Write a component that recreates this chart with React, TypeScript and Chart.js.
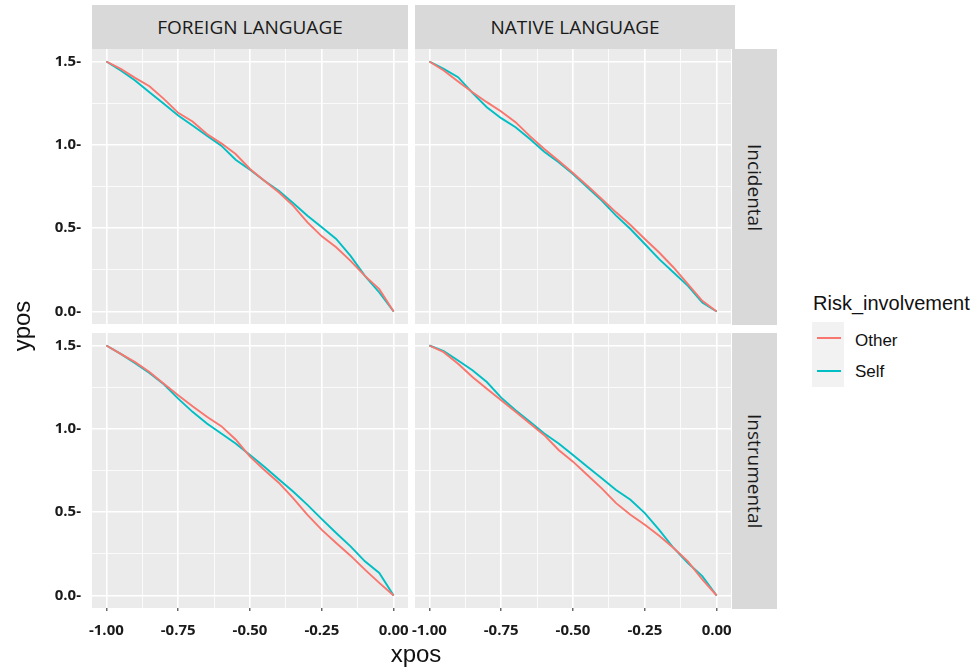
import React, { useEffect, useRef } from "react";
import { Chart, registerables } from "chart.js";

Chart.register(...registerables);

// ---- data ----
const xpos = [
  -1, -0.95, -0.9, -0.85, -0.8, -0.75, -0.7, -0.65, -0.6, -0.55, -0.5,
  -0.45, -0.4, -0.35, -0.3, -0.25, -0.2, -0.15, -0.1, -0.05, 0,
];

// FOREIGN LANGUAGE / Incidental
const foreignIncidentalOther = [1.5, 1.456, 1.402, 1.352, 1.276, 1.192, 1.14, 1.065, 1.009, 0.945, 0.855, 0.785, 0.715, 0.635, 0.535, 0.451, 0.385, 0.304, 0.214, 0.134, 0];
const foreignIncidentalSelf = [1.5, 1.446, 1.386, 1.316, 1.246, 1.176, 1.116, 1.055, 0.995, 0.911, 0.851, 0.785, 0.725, 0.651, 0.575, 0.505, 0.435, 0.334, 0.214, 0.114, 0];
// NATIVE LANGUAGE / Incidental
const nativeIncidentalOther = [1.5, 1.446, 1.38, 1.316, 1.256, 1.2, 1.136, 1.052, 0.975, 0.905, 0.831, 0.755, 0.675, 0.595, 0.519, 0.435, 0.354, 0.264, 0.164, 0.064, 0];
const nativeIncidentalSelf = [1.5, 1.456, 1.406, 1.312, 1.226, 1.16, 1.106, 1.035, 0.959, 0.895, 0.825, 0.745, 0.665, 0.575, 0.495, 0.405, 0.314, 0.234, 0.154, 0.054, 0];
// FOREIGN LANGUAGE / Instrumental
const foreignInstrumentalOther = [1.5, 1.45, 1.4, 1.341, 1.271, 1.201, 1.135, 1.072, 1.016, 0.936, 0.833, 0.753, 0.677, 0.584, 0.484, 0.394, 0.315, 0.239, 0.155, 0.076, 0];
const foreignInstrumentalSelf = [1.5, 1.45, 1.394, 1.335, 1.267, 1.181, 1.102, 1.032, 0.972, 0.912, 0.843, 0.773, 0.697, 0.624, 0.544, 0.458, 0.375, 0.295, 0.205, 0.135, 0];
// NATIVE LANGUAGE / Instrumental
const nativeInstrumentalOther = [1.5, 1.46, 1.39, 1.311, 1.241, 1.171, 1.102, 1.032, 0.962, 0.873, 0.803, 0.723, 0.643, 0.554, 0.484, 0.424, 0.359, 0.285, 0.205, 0.096, 0];
const nativeInstrumentalSelf = [1.5, 1.466, 1.41, 1.351, 1.281, 1.187, 1.112, 1.042, 0.972, 0.912, 0.843, 0.773, 0.703, 0.633, 0.574, 0.494, 0.394, 0.285, 0.195, 0.116, 0];

const xTickValues = [-1, -0.875, -0.75, -0.625, -0.5, -0.375, -0.25, -0.125, 0];
const yTickValues = [0, 0.25, 0.5, 0.75, 1, 1.25, 1.5];
const columnLabels = ["FOREIGN LANGUAGE", "NATIVE LANGUAGE"];
const rowLabels = ["Incidental", "Instrumental"];
const seriesLabels = ["Other", "Self"];
const seriesColors = ["#F8766D", "#00BFC4"];

// ---- layout ----
const COL_X = [92, 415];
const ROW_Y = [49, 333];
const PW = 316;
const PH = 275;

const isMajorX = (v: number) => Math.abs(v * 4 - Math.round(v * 4)) < 1e-6;
const isMajorY = (v: number) => Math.abs(v * 2 - Math.round(v * 2)) < 1e-6;

const panelBg = {
  id: "panelBg",
  beforeDraw(chart: any) {
    const { ctx, chartArea } = chart;
    ctx.save();
    ctx.fillStyle = "#EBEBEB";
    ctx.fillRect(chartArea.left, chartArea.top, chartArea.right - chartArea.left, chartArea.bottom - chartArea.top);
    ctx.restore();
  },
};

const tickFont = { family: "'Open Sans', sans-serif", size: 15, weight: "bold" as const };

type PanelProps = {
  other: number[];
  self: number[];
  col: number;
  row: number;
};

function Panel({ other, self, col, row }: PanelProps) {
  const ref = useRef<HTMLCanvasElement | null>(null);
  const showY = col === 0;
  const showX = row === 1;
  const yAxisW = showY ? 92 : 8;
  const xAxisH = showX ? 40 : 0;
  const left = COL_X[col] - yAxisW;
  const top = ROW_Y[row];
  const w = PW + yAxisW;
  const h = PH + xAxisH;

  useEffect(() => {
    if (!ref.current) return;
    const chart = new Chart(ref.current, {
      type: "line",
      data: {
        datasets: [
          {
            label: seriesLabels[0],
            data: xpos.map((x, i) => ({ x, y: other[i] })),
            borderColor: seriesColors[0],
            backgroundColor: seriesColors[0],
          },
          {
            label: seriesLabels[1],
            data: xpos.map((x, i) => ({ x, y: self[i] })),
            borderColor: seriesColors[1],
            backgroundColor: seriesColors[1],
          },
        ],
      },
      options: {
        animation: false,
        responsive: false,
        maintainAspectRatio: false,
        devicePixelRatio: 1,
        layout: { padding: 0, autoPadding: false } as any,
        elements: {
          point: { radius: 0, hoverRadius: 0 },
          line: { borderWidth: 1.9, tension: 0 },
        },
        plugins: {
          legend: { display: false },
          tooltip: { enabled: false },
        },
        scales: {
          x: {
            type: "linear",
            min: -1.05,
            max: 0.05,
            border: { display: false },
            afterBuildTicks: (s: any) => {
              s.ticks = xTickValues.map((v) => ({ value: v }));
            },
            afterFit: (s: any) => {
              s.height = xAxisH;
              s.paddingLeft = 0;
              s.paddingRight = 0;
            },
            grid: {
              color: "#FFFFFF",
              lineWidth: (c: any) => (c.tick && isMajorX(c.tick.value) ? 1.6 : 0.8),
              drawTicks: showX,
              tickLength: 3,
              tickWidth: 1.1,
              tickColor: (c: any) => (c.tick && isMajorX(c.tick.value) ? "#333333" : "rgba(0,0,0,0)"),
            },
            ticks: {
              display: showX,
              autoSkip: false,
              maxRotation: 0,
              minRotation: 0,
              padding: 11,
              color: "#1A1A1A",
              font: tickFont,
              callback: (v: any) => (isMajorX(Number(v)) ? Number(v).toFixed(2) : ""),
            },
          },
          y: {
            type: "linear",
            min: -0.075,
            max: 1.575,
            border: { display: false },
            afterBuildTicks: (s: any) => {
              s.ticks = yTickValues.map((v) => ({ value: v }));
            },
            afterFit: (s: any) => {
              s.width = yAxisW;
              s.paddingTop = 0;
              s.paddingBottom = 0;
            },
            grid: {
              color: "#FFFFFF",
              lineWidth: (c: any) => (c.tick && isMajorY(c.tick.value) ? 1.6 : 0.8),
              drawTicks: false,
            },
            ticks: {
              display: showY,
              autoSkip: false,
              padding: 11,
              color: "#1A1A1A",
              font: tickFont,
              callback: (v: any) => (isMajorY(Number(v)) ? Number(v).toFixed(1) + "-" : ""),
            },
          },
        },
      },
      plugins: [panelBg],
    });
    return () => chart.destroy();
  }, []);

  return (
    <canvas
      ref={ref}
      width={w}
      height={h}
      style={{ position: "absolute", left, top, width: w, height: h }}
    />
  );
}

const stripText: React.CSSProperties = {
  position: "absolute",
  background: "#D9D9D9",
  color: "#1A1A1A",
  fontFamily: "'Open Sans', sans-serif",
  fontSize: 19,
  display: "flex",
  alignItems: "center",
  justifyContent: "center",
  whiteSpace: "nowrap",
};

const sans = "'Liberation Sans', Arial, sans-serif";

export default function App() {
  return (
    <div
      style={{
        position: "absolute",
        left: 0,
        top: 0,
        width: 979,
        height: 669,
        background: "#FFFFFF",
        overflow: "hidden",
      }}
    >
      <Panel other={foreignIncidentalOther} self={foreignIncidentalSelf} col={0} row={0} />
      <Panel other={nativeIncidentalOther} self={nativeIncidentalSelf} col={1} row={0} />
      <Panel other={foreignInstrumentalOther} self={foreignInstrumentalSelf} col={0} row={1} />
      <Panel other={nativeInstrumentalOther} self={nativeInstrumentalSelf} col={1} row={1} />

      {/* column strips */}
      <div style={{ ...stripText, left: COL_X[0], top: 5, width: PW, height: 44 }}>{columnLabels[0]}</div>
      <div style={{ ...stripText, left: COL_X[1], top: 5, width: 320, height: 44 }}>{columnLabels[1]}</div>

      {/* row strips */}
      <div style={{ ...stripText, left: 732, top: ROW_Y[0], width: 45, height: PH + 1 }}>
        <span style={{ writingMode: "vertical-rl" }}>{rowLabels[0]}</span>
      </div>
      <div style={{ ...stripText, left: 732, top: ROW_Y[1], width: 45, height: PH + 1 }}>
        <span style={{ writingMode: "vertical-rl" }}>{rowLabels[1]}</span>
      </div>

      {/* axis titles */}
      <div
        style={{
          position: "absolute",
          left: 22 - 40,
          top: 326 - 12,
          width: 80,
          height: 24,
          lineHeight: "24px",
          textAlign: "center",
          fontFamily: sans,
          fontSize: 24,
          color: "#111",
          transform: "rotate(-90deg)",
        }}
      >
        ypos
      </div>
      <div
        style={{
          position: "absolute",
          left: 416 - 40,
          top: 642,
          width: 80,
          height: 24,
          lineHeight: "24px",
          textAlign: "center",
          fontFamily: sans,
          fontSize: 24,
          color: "#111",
        }}
      >
        xpos
      </div>

      {/* legend */}
      <div
        style={{
          position: "absolute",
          left: 813,
          top: 293,
          lineHeight: "20px",
          fontFamily: sans,
          fontSize: 20,
          color: "#111",
          whiteSpace: "nowrap",
        }}
      >
        Risk_involvement
      </div>
      <div style={{ position: "absolute", left: 812, top: 322, width: 32, height: 65, background: "#F2F2F2" }} />
      {seriesLabels.map((lab, i) => (
        <React.Fragment key={lab}>
          <div
            style={{
              position: "absolute",
              left: 817,
              top: 336.5 + i * 33,
              width: 24,
              height: 2,
              background: seriesColors[i],
            }}
          />
          <div
            style={{
              position: "absolute",
              left: 855,
              top: 332 + i * 31,
              lineHeight: "17px",
              fontFamily: sans,
              fontSize: 17,
              color: "#111",
              whiteSpace: "nowrap",
            }}
          >
            {lab}
          </div>
        </React.Fragment>
      ))}
    </div>
  );
}
